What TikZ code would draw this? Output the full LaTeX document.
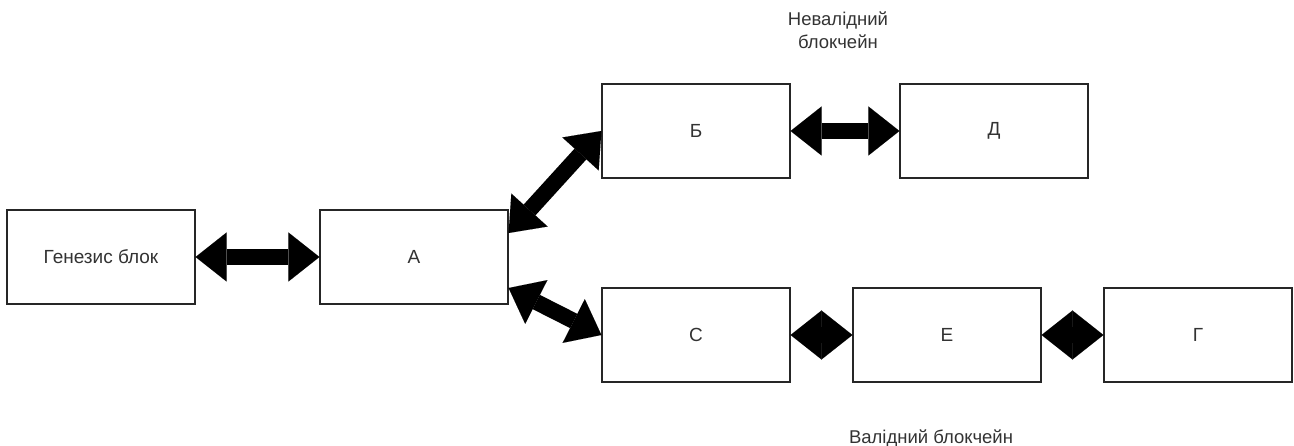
\documentclass[tikz,border=0pt]{standalone}
\usepackage{fontspec}
\setmainfont{Liberation Sans}
\usetikzlibrary{arrows.meta,calc}
\definecolor{ink}{HTML}{333333}
\tikzset{
  block/.style={draw=black!85, line width=1.2pt, fill=white,
    minimum width=188pt, minimum height=94pt, inner sep=0pt,
    text=ink, font=\fontsize{19}{23}\selectfont},
  label/.style={text=ink, font=\fontsize{18.5}{23}\selectfont, inner sep=0pt, align=center},
  link/.style={line width=16pt, black,
    {Triangle[length=31pt,width=49pt,line width=0.01pt]}-{Triangle[length=31pt,width=49pt,line width=0.01pt]}}
}
\begin{document}
\begin{tikzpicture}[x=1pt, y=-1pt]
  \useasboundingbox (0,0) rectangle (1294,446);

  % blocks of the chain
  \node[block] (gen) at (101,257) {Генезис блок};
  \node[block] (a)   at (414,257) {А};
  \node[block] (b)   at (696,131) {Б};
  \node[block] (d)   at (994,131) {Д};
  \node[block] (c)   at (696,335) {С};
  \node[block] (e)   at (947,335) {Е};
  \node[block] (g)   at (1198,335) {Г};

  % links between blocks
  \draw[link] (gen.east) -- (a.west);
  \draw[link] ($(a.east)+(0,-24)$) -- (b.west);
  \draw[link] ($(a.east)+(0,31)$) -- (c.west);
  \draw[link] (b.east) -- (d.west);
  \draw[link] (c.east) -- (e.west);
  \draw[link] (e.east) -- (g.west);

  % branch captions
  \node[label] (inv) at (838,30) {Невалідний\\блокчейн};
  \node[label, anchor=base] (val) at (931,443) {Валідний блокчейн};
\end{tikzpicture}
\end{document}
